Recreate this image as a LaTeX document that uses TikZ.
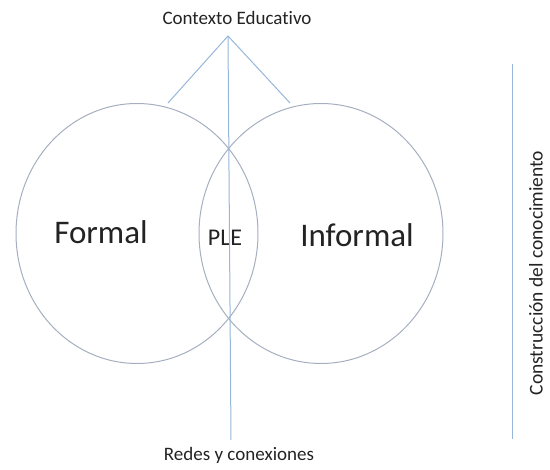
\documentclass[tikz,border=0pt]{standalone}
\usepackage{fontspec}
\setmainfont{Carlito}[Ligatures=CommonOff]
\begin{document}
\definecolor{linkblue}{RGB}{150,182,218}
\definecolor{ringgray}{RGB}{165,175,192}
\definecolor{inkgray}{RGB}{35,35,35}
\begin{tikzpicture}[x=1pt,y=-1pt,
  ring/.style={draw=ringgray,line width=1pt},
  link/.style={draw=linkblue,line width=1pt},
  label/.style={text=inkgray,inner sep=0pt,font=\fontsize{#1}{#1}\selectfont},
  label/.default=19]
\useasboundingbox (0,0) rectangle (550,470);
% two overlapping spheres of learning
\draw[ring] (137,233.5) ellipse [x radius=121, y radius=130];
\draw[ring] (321,233.5) ellipse [x radius=122, y radius=130];
% labels
\node[label] (ctx) at (237,18) {Contexto Educativo};
\node[label=33] (formal) at (101,232) {Formal};
\node[label=33] (informal) at (357,235) {Informal};
\node[label=24] (ple) at (225,238) {PLE};
\node[label] (redes) at (239,455) {Redes y conexiones};
\node[label=19.5,rotate=90] (constr) at (536,273) {Construcción del conocimiento};
% connectors
\coordinate (apex) at (228,36);
\coordinate (lfoot) at (168,103);
\coordinate (rfoot) at (290,103);
\coordinate (base) at (231,440);
\coordinate (axtop) at (512,64);
\coordinate (axbot) at (512,439);
\draw[link] (lfoot) -- (apex) -- (rfoot);
\draw[link] (apex) -- (base);
\draw[link] (axtop) -- (axbot);
\end{tikzpicture}
\end{document}
